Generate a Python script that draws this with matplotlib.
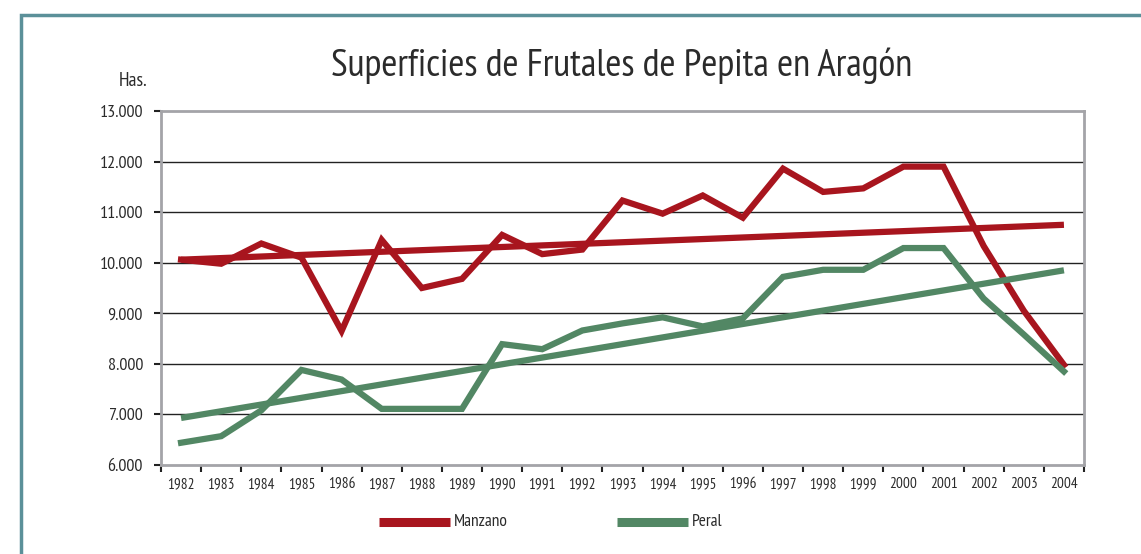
import matplotlib
matplotlib.use("Agg")
import matplotlib.pyplot as plt
from matplotlib.ticker import FixedLocator, NullFormatter
from matplotlib.lines import Line2D
import numpy as np

# -------------
# Data
# -------------
years = list(range(1982, 2005))
manzano = [10060, 9980, 10380, 10100, 8650, 10450, 9500, 9680, 10550, 10170,
           10260, 11230, 10970, 11330, 10890, 11860, 11400, 11470, 11900, 11900,
           10330, 9050, 7980]
peral = [6440, 6570, 7080, 7880, 7690, 7110, 7110, 7110, 8390, 8290,
         8660, 8800, 8920, 8740, 8900, 9720, 9860, 9860, 10290, 10290,
         9290, 8580, 7850]
# trend lines (start / end values)
manzano_trend = [10060, 10750]
peral_trend = [6930, 9850]
y_ticks = [6000, 7000, 8000, 9000, 10000, 11000, 12000, 13000]
y_labels = ["6.000", "7.000", "8.000", "9.000", "10.000", "11.000", "12.000", "13.000"]
series_names = ["Manzano", "Peral"]

RED = "#a8151e"
GREEN = "#528764"
TEAL = "#5b9099"
TXT = "#2b2b2b"
plt.rcParams["font.family"] = ["PT Sans Narrow", "DejaVu Sans"]

W, H = 1141, 554

# -------------
# Drawing
# -------------
fig = plt.figure(figsize=(W / 100, H / 100), dpi=100)
ax = fig.add_axes([161 / W, 1 - 465 / H, (1084 - 161) / W, (465 - 111) / H])

x = np.arange(len(years))
ax.plot(x, manzano, color=RED, lw=4.5, solid_joinstyle="miter", zorder=3)
ax.plot([x[0], x[-1]], manzano_trend, color=RED, lw=4.5, solid_capstyle="butt", zorder=3)
ax.plot(x, peral, color=GREEN, lw=4.5, solid_joinstyle="miter", zorder=3)
ax.plot([x[0], x[-1]], peral_trend, color=GREEN, lw=4.5, solid_capstyle="butt", zorder=3)

ax.set_xlim(-0.5, len(years) - 0.5)
ax.set_ylim(6000, 13000)

ax.set_yticks(y_ticks)
ax.set_yticklabels(y_labels, fontsize=13, color=TXT)
for yv in y_ticks[1:-1]:
    ax.axhline(yv, color="#222222", lw=1.0, zorder=1)

ax.set_xticks(x)
ax.set_xticklabels([str(y) for y in years], fontsize=11, color=TXT)
ax.xaxis.set_minor_locator(FixedLocator(np.arange(-0.5, len(years), 1.0)))
ax.xaxis.set_minor_formatter(NullFormatter())
ax.tick_params(axis="x", which="major", length=0, pad=9)
ax.tick_params(axis="x", which="minor", length=5, width=1.5, color="#222222", direction="out")
ax.tick_params(axis="y", length=5, width=1.5, color="#222222", pad=8)

for s in ax.spines.values():
    s.set_color("#a4a4a8")
    s.set_linewidth(2)

fig.text(622 / W, 1 - 66 / H, "Superficies de Frutales de Pepita en Aragón",
         ha="center", va="center", fontsize=28, color=TXT)
fig.text(147 / W, 1 - 81 / H, "Has.", ha="right", va="center", fontsize=14, color=TXT)

# legend below the plot
for name, col, x0 in zip(series_names, [RED, GREEN], [379, 617]):
    fig.add_artist(Line2D([x0 / W, (x0 + 71) / W], [1 - 522 / H] * 2, color=col, lw=6.5,
                          solid_capstyle="butt", transform=fig.transFigure))
    fig.text((x0 + 75) / W, 1 - 522 / H, name, ha="left", va="center", fontsize=12.5, color=TXT)

# outer frame
frame = plt.Rectangle((21 / W, -0.05), 1.2, 1 - 15 / H + 0.05, transform=fig.transFigure,
                      fill=False, edgecolor=TEAL, lw=2.5)
fig.patches.append(frame)

fig.savefig("out.png", dpi=100)
